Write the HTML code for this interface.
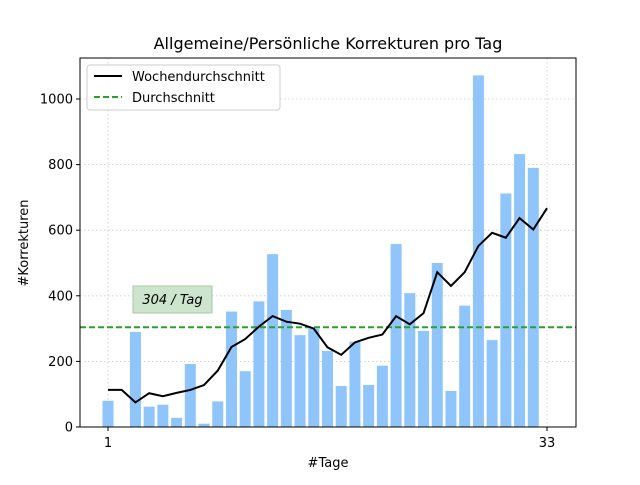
<!DOCTYPE html>
<html><head><meta charset="utf-8"><style>
body{margin:0;background:#fff}
text{font-family:"DejaVu Sans","Liberation Sans",sans-serif}
</style></head><body>
<svg id="chart" width="640" height="480" xmlns="http://www.w3.org/2000/svg">
<rect width="640" height="480" fill="#fff"/>
<text x="328" y="49" font-size="16" text-anchor="middle">Allgemeine/Persönliche Korrekturen pro Tag</text>
<g id="grid"></g>
<g id="bars"></g>
<g id="lines"></g>
<rect x="80" y="58" width="496" height="369" fill="none" stroke="#000" stroke-width="1"/>
<g id="ticks"></g>
<text x="328" y="467" font-size="13" text-anchor="middle">#Tage</text>
<text transform="translate(28,243) rotate(-90)" font-size="13" text-anchor="middle">#Korrekturen</text>
<g>
<rect x="133" y="286" width="79" height="27" fill="#cde5cd" stroke="#a8c8a8" stroke-width="1"/>
<text x="172.5" y="304" font-size="13" font-style="italic" text-anchor="middle">304 / Tag</text>
</g>
<g>
<rect x="87" y="65" width="193" height="45" rx="3" fill="#fff" fill-opacity="0.85" stroke="#ccc"/>
<line x1="94" y1="76" x2="122" y2="76" stroke="#000" stroke-width="2"/>
<text x="132" y="81" font-size="13">Wochendurchschnitt</text>
<line x1="94" y1="97" x2="122" y2="97" stroke="#2ca02c" stroke-width="2" stroke-dasharray="6,3"/>
<text x="132" y="102" font-size="13">Durchschnitt</text>
</g>
</svg>
<script>
const days = [1,2,3,4,5,6,7,8,9,10,11,12,13,14,15,16,17,18,19,20,21,22,23,24,25,26,27,28,29,30,31,32];
const counts = [80,0,290,62,68,28,192,10,78,352,170,383,527,357,280,300,232,125,260,128,187,558,408,293,500,110,370,1072,265,712,832,790];
const weekDays = [1,2,3,4,5,6,7,8,9,10,11,12,13,14,15,16,17,18,19,20,21,22,23,24,25,26,27,28,29,30,31,32,33];
const weeklyAvg = [113,113,75,103,94,104,113,128,172,244,268,306,338,321,315,300,243,220,258,272,282,338,313,347,472,430,472,552,592,577,637,602,667];
const average = 304;
const yTicks = [0,200,400,600,800,1000];
const xTicks = [1,33];

const NS="http://www.w3.org/2000/svg";
const X=d=>108+(d-1)*(547-108)/32;
const Y=v=>427-v*0.328;
function mk(tag,attrs,parent){const e=document.createElementNS(NS,tag);for(const k in attrs)e.setAttribute(k,attrs[k]);document.getElementById(parent).appendChild(e);return e;}

yTicks.forEach(t=>{
  const g=mk('line',{x1:80,x2:576,y1:Y(t),y2:Y(t),stroke:'#c8c8c8','stroke-dasharray':'1.5,2.5','stroke-width':0.8},'grid');
  
  
  const tk=mk('line',{x1:76,x2:80,y1:Y(t),y2:Y(t),stroke:'#000'},'ticks');
  
  
  const tx=mk('text',{x:73,y:Y(t)+4.5,'font-size':13,'text-anchor':'end'},'ticks');
  tx.textContent=t;
  
  
});
xTicks.forEach(t=>{
  const g=mk('line',{x1:X(t),x2:X(t),y1:58,y2:427,stroke:'#c8c8c8','stroke-dasharray':'1.5,2.5','stroke-width':0.8},'grid');
  
  
  const tk=mk('line',{x1:X(t),x2:X(t),y1:427,y2:431,stroke:'#000'},'ticks');
  
  
  const tx=mk('text',{x:X(t),y:447,'font-size':13,'text-anchor':'middle'},'ticks');
  tx.textContent=t;
  
  
});
const bw=11;
days.forEach((d,i)=>{
  const r=mk('rect',{x:X(d)-bw/2,y:Y(counts[i]),width:bw,height:counts[i]*0.328,fill:'#8fc5fb'},'bars');
  
  
});
const avgLine=mk('line',{x1:80,x2:576,y1:Y(average),y2:Y(average),stroke:'#2ca02c','stroke-width':2,'stroke-dasharray':'6,3'},'lines');


const wl=mk('polyline',{points:weekDays.map((d,i)=>X(d)+','+Y(weeklyAvg[i])).join(' '),fill:'none',stroke:'#000','stroke-width':2},'lines');


</script>
</body></html>
